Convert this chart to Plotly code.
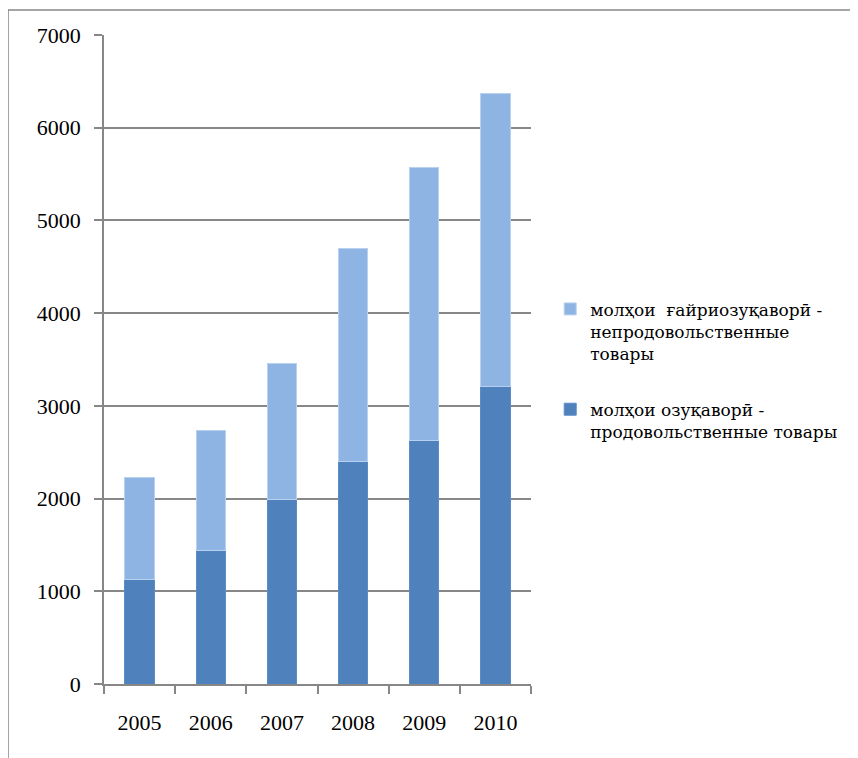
import plotly.graph_objects as go

years = ["2005", "2006", "2007", "2008", "2009", "2010"]
food = [1125, 1438, 1992, 2398, 2629, 3207]
nonfood = [1105, 1291, 1467, 2295, 2937, 3165]
name_food = "молҳои озуқаворӣ -<br>продовольственные товары"
name_nonfood = "молҳои  ғайриозуқаворӣ -<br>непродовольственные<br>товары"
y_ticks = [0, 1000, 2000, 3000, 4000, 5000, 6000, 7000]

fig = go.Figure()
fig.add_trace(go.Bar(x=years, y=food, name=name_food, legendgroup="food", legendrank=2,
                     marker=dict(color="#4F81BD", line=dict(color="#5B8CC6", width=1))))
fig.add_trace(go.Bar(x=years, y=nonfood, name=name_nonfood, legendgroup="nonfood", legendrank=1,
                     marker=dict(color="#8EB4E3", line=dict(color="#B9D0EE", width=1))))

grid = "#878787"
fig.update_layout(
    barmode="stack",
    bargap=0.59,
    width=850, height=750,
    margin=dict(l=96, r=327, t=27, b=74),
    plot_bgcolor="white", paper_bgcolor="white",
    font=dict(family="Liberation Serif", size=22, color="#000"),
    legend=dict(x=1.045, y=0.605, xanchor="left", yanchor="top", valign="top",
                traceorder="grouped", tracegroupgap=31,
                font=dict(family="DejaVu Serif", size=17, color="#000"),
                itemwidth=30, bgcolor="rgba(0,0,0,0)"),
    xaxis=dict(type="category", tickson="boundaries", ticks="outside", ticklen=8,
               tickcolor=grid, tickwidth=1.5, showline=True, linecolor=grid, linewidth=1.5,
               showgrid=False, ticklabelstandoff=18),
    yaxis=dict(range=[0, 7000], tickvals=y_ticks, ticks="outside", ticklen=8,
               tickcolor=grid, tickwidth=1.5, showline=True, linecolor=grid, linewidth=1.5,
               showgrid=True, gridcolor=grid, gridwidth=1.5, zeroline=False,
               ticklabelstandoff=9),
    shapes=[
        dict(type="line", xref="paper", yref="paper", x0=-0.2248, x1=-0.2248,
             y0=-0.2, y1=1.0385, line=dict(color=grid, width=1.5)),
        dict(type="line", xref="paper", yref="paper", x0=-0.2248, x1=1.9,
             y0=1.0385, y1=1.0385, line=dict(color=grid, width=1.5)),
    ],
)
fig.write_html("out.html")
